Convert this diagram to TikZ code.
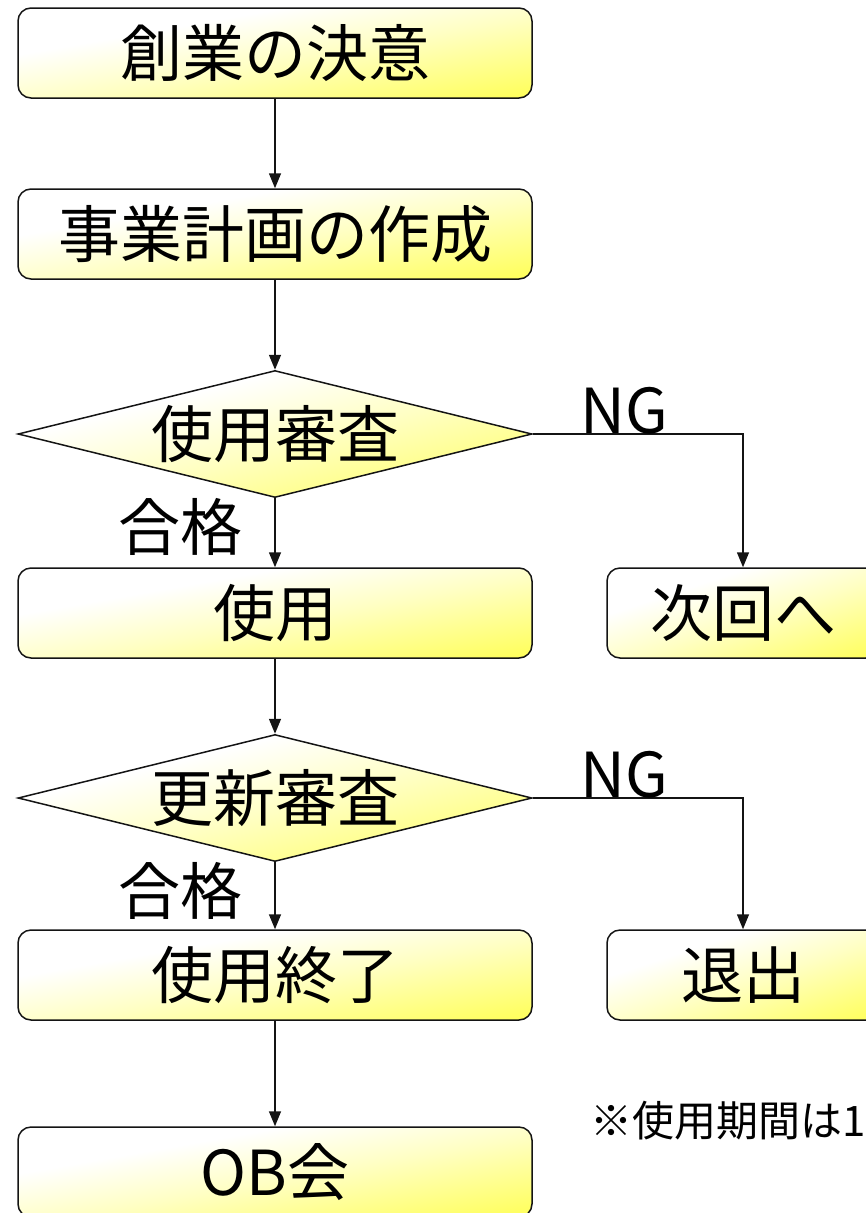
\documentclass[tikz,border=0pt]{standalone}
\usepackage{fontspec}
\setmainfont{Noto Sans CJK JP}
\usetikzlibrary{shapes.geometric,arrows.meta,positioning}
\definecolor{boxyellow}{RGB}{255,255,90}
\definecolor{paleyellow}{RGB}{255,255,195}
\definecolor{edgecol}{RGB}{20,20,20}
\pgfdeclarehorizontalshading{diagsh}{150bp}{color(0bp)=(white); color(42bp)=(white); color(82bp)=(paleyellow); color(142bp)=(boxyellow); color(150bp)=(boxyellow)}
\tikzset{
  gfill/.style 2 args={path picture={
    \begin{pgfscope}
    \pgftransformshift{\pgfpointanchor{path picture bounding box}{center}}
    \pgftransformxscale{#1/97}
    \pgftransformyscale{#2/97}
    \pgftransformrotate{-45}
    \pgflowlevelsynccm
    \pgftext{\pgfuseshading{diagsh}}
    \end{pgfscope}
  }},
  base/.style={draw=edgecol, line width=1.5pt,
    font=\fontsize{62}{62}\selectfont, inner sep=0pt, text=black},
  procbox/.style={base, rectangle, rounded corners=13pt, minimum width=514pt, minimum height=90pt, gfill={514}{90}},
  sidebox/.style={base, rectangle, rounded corners=13pt, minimum width=272pt, minimum height=90pt, gfill={272}{90}},
  decide/.style={base, diamond, shape aspect=4, minimum width=514pt, minimum height=127pt, gfill={514}{127}},
  conn/.style={line width=1.5pt, draw=edgecol, -{Triangle[length=15pt,width=12pt]}},
  lbl/.style={font=\fontsize{62}{62}\selectfont, inner sep=0pt},
  note/.style={font=\fontsize{42}{42}\selectfont, inner sep=0pt}
}
\begin{document}
\begin{tikzpicture}[x=1pt,y=-1pt]
\useasboundingbox (0,0) rectangle (866,1213);
\node[procbox] (b1) at (275,53) {創業の決意};
\node[procbox] (b2) at (275,234) {事業計画の作成};
\node[decide]  (d1) at (275,434) {使用審査};
\node[procbox] (b3) at (275,613) {使用};
\node[sidebox] (r1) at (743,613) {次回へ};
\node[decide]  (d2) at (275,798) {更新審査};
\node[procbox] (b4) at (275,975) {使用終了};
\node[sidebox] (r2) at (743,975) {退出};
\node[procbox] (b5) at (275,1172) {OB会};

\draw[conn] (b1.south) -- (b2.north);
\draw[conn] (b2.south) -- (d1.north);
\draw[conn] (d1.south) -- (b3.north);
\draw[conn] (b3.south) -- (d2.north);
\draw[conn] (d2.south) -- (b4.north);
\draw[conn] (b4.south) -- (b5.north);
\draw[conn] (d1.east) -| (r1.north);
\draw[conn] (d2.east) -| (r2.north);

\node[lbl, anchor=base west] (ng1) at (580,433) {NG};
\node[lbl, anchor=base west] (ng2) at (580,797) {NG};
\node[lbl, anchor=base east] (ok1) at (243,550) {合格};
\node[lbl, anchor=base east] (ok2) at (243,914) {合格};
\node[note, anchor=base west] (nt) at (590,1136) {※使用期間は1};
\end{tikzpicture}
\end{document}
